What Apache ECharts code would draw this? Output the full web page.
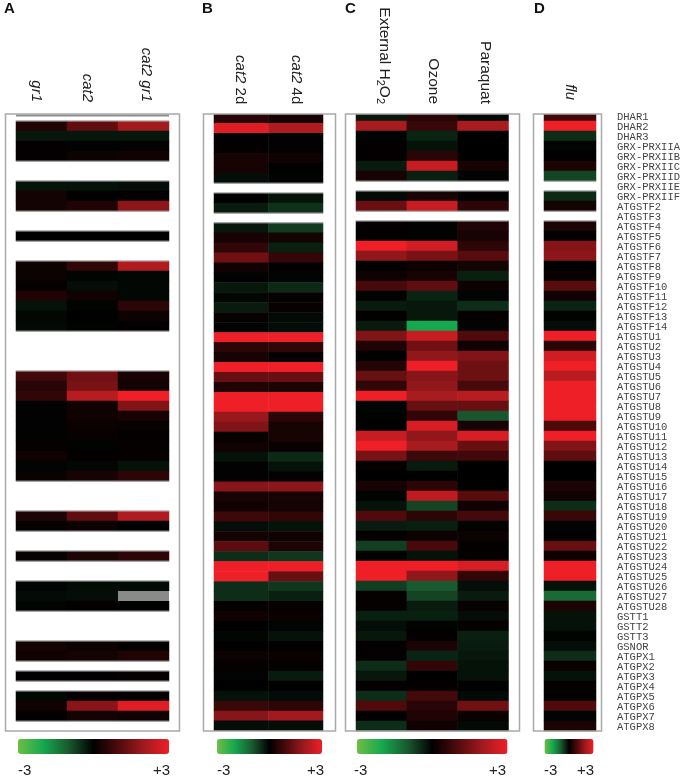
<!DOCTYPE html>
<html><head><meta charset="utf-8"><title>Heatmap</title>
<style>html,body{margin:0;padding:0;background:#fff}#c{width:680px;height:780px}</style>
<script src="https://cdn.jsdelivr.net/npm/echarts@6/dist/echarts.min.js"></script>
</head><body><div id="c"></div>
<script>
const N = null, NA = 'NA'; // N: not on array (blank row), NA: no value (grey cell)
const genes = ['DHAR1','DHAR2','DHAR3','GRX-PRXIIA','GRX-PRXIIB','GRX-PRXIIC','GRX-PRXIID','GRX-PRXIIE','GRX-PRXIIF',
 'ATGSTF2','ATGSTF3','ATGSTF4','ATGSTF5','ATGSTF6','ATGSTF7','ATGSTF8','ATGSTF9','ATGSTF10','ATGSTF11','ATGSTF12','ATGSTF13','ATGSTF14',
 'ATGSTU1','ATGSTU2','ATGSTU3','ATGSTU4','ATGSTU5','ATGSTU6','ATGSTU7','ATGSTU8','ATGSTU9','ATGSTU10','ATGSTU11','ATGSTU12','ATGSTU13','ATGSTU14',
 'ATGSTU15','ATGSTU16','ATGSTU17','ATGSTU18','ATGSTU19','ATGSTU20','ATGSTU21','ATGSTU22','ATGSTU23','ATGSTU24','ATGSTU25','ATGSTU26','ATGSTU27','ATGSTU28',
 'GSTT1','GSTT2','GSTT3','GSNOR','ATGPX1','ATGPX2','ATGPX3','ATGPX4','ATGPX5','ATGPX6','ATGPX7','ATGPX8'];

const A_gr1 = [N,.4,-.25,.05,.03,N,N,-.2,.25,.25,
 N,N,0,N,N,.15,.15,.08,.4,-.2,
 -.08,-.1,N,N,N,N,.8,.5,.6,-.02,
 -.02,-.02,-.02,.08,.2,-.05,.12,N,N,N,
 .35,.08,N,N,.1,N,N,-.05,-.12,-.05,
 N,N,N,.25,.2,N,.02,N,-.08,.2,
 .03,N];
const A_cat2 = [N,1.2,-.25,-.02,.15,N,N,-.2,.03,.4,
 N,N,0,N,N,.6,-.05,-.15,.2,-.03,
 0,-.03,N,N,N,N,1.4,1.5,2.3,.2,
 .2,.12,.1,-.03,.05,-.08,.3,N,N,N,
 1.2,.15,N,N,.35,N,N,-.12,-.15,.05,
 N,N,N,.15,.25,N,.03,N,.05,1.7,
 .25,N];
const A_cat2gr1 = [N,2,-.25,-.02,.2,N,N,-.15,.05,1.75,
 N,N,0,N,N,2.2,-.08,-.08,-.08,.55,
 .15,.05,N,N,N,N,.3,.25,3,1.6,
 .3,.1,.02,.07,.07,-.2,.55,N,N,N,
 2.2,-.02,N,N,.55,N,N,-.12,NA,-.03,
 N,N,N,.05,.4,N,.07,N,.03,2.8,
 .2,N];
const B_2d = [.5,2.8,.02,.05,.3,.3,-.15,N,0,-.3,
 N,-.25,.3,.6,1.4,.2,-.02,-.25,-.08,-.3,
 .1,-.03,3,.55,.3,3,1.3,.4,3,3,
 1.9,1.6,.1,.2,-.2,-.02,-.02,1.7,.3,.2,
 .75,-.15,.25,1.15,-.5,3,3,-.5,-.5,.08,
 .2,0,-.07,.02,.15,.07,-.05,0,-.2,.7,
 1.7,-.15];
const B_4d = [.3,2.2,-.02,-.02,.2,0,-.03,N,-.2,-.55,
 N,-.65,.25,-.35,.65,.05,-.05,-.45,.08,.1,
 -.1,-.12,3,.6,.05,3,1.3,.35,3,3,
 .55,.3,.3,.1,-.45,-.2,-.02,1.75,.3,.25,
 .6,-.2,.2,.35,-.6,3,1.3,-.6,-.35,.08,
 .12,-.05,-.2,.02,.12,.07,-.3,0,-.12,.55,
 2,-.15];
const C_ext = [-.25,2.1,-.05,.05,.03,-.3,.3,N,-.1,1.3,
 N,.05,.05,3,1.8,.02,.15,.9,-.03,-.3,
 .05,-.3,1.6,.4,0,.45,1.3,.6,3,-.05,
 -.03,0,2.5,3,1.5,.08,0,.3,-.03,-.2,
 1,-.3,.05,-.7,-.03,3,3,-.7,.08,.08,
 -.35,-.15,-.25,.05,.05,-.5,-.25,.05,-.5,1,
 .03,-.5];
const C_ozone = [.5,.7,-.4,-.2,.5,2.5,-.35,N,.3,2.5,
 N,-.02,-.02,2.6,1.5,.15,.3,1.2,-.4,-.25,
 -.25,-2,2.5,1.4,1.8,3,1.7,1.8,2.1,1.3,
 .6,2.7,1.8,2.1,.75,-.3,0,.55,2.4,-.75,
 .55,-.35,.15,.9,-.2,3,1.8,-1,-.75,-.3,
 -.35,-.03,.05,.35,-.4,.6,0,.05,.85,.5,
 .4,.2];
const C_paraquat = [-.1,2.1,0,0,0,.3,-.05,N,0,.55,
 N,.4,.3,.55,1.1,.25,-.35,.15,-.05,-.5,
 .08,-.05,1,.2,1.6,1.35,1.35,.9,2.3,1.3,
 -.95,.3,2.7,1.3,.8,0,0,0,1.1,.2,
 .85,-.02,.15,.05,.08,2.7,.6,-.15,-.3,.1,
 -.15,.08,-.35,-.3,-.25,-.2,-.2,.02,-.1,1.4,
 .12,-.1];
const D_flu = [.8,3,-.5,-.05,.03,.35,-.75,N,-.45,.25,
 N,.35,.05,1.65,1.75,0,.1,1.1,.2,-.4,
 -.03,-.15,3,.5,2.6,3,2.3,3,3,3,
 3,.95,3,1.6,1.2,0,0,.35,.2,-.5,
 .7,-.05,-.02,1.3,.15,3,3,-.2,-1.2,.35,
 -.2,-.2,-.03,-.15,-.5,.12,-.2,.08,.03,1,
 -.05,.35];

const scaleColors = ['#6dbe45','#16a84e','#1a5a30','#000000','#500a0c','#a01a1e','#ee1f26'];
const sans = '"Liberation Sans",Arial,sans-serif';
const shift = n => n>0 ? [0,0,n,0] : [-n,0,0,0];

const panels = [
 {letter:'A', letterX:4, frame:[5.5,114,174,617], grid:{left:16,width:153,top:111,height:620},
  cols:[A_gr1,A_cat2,A_cat2gr1], names:['{i|gr1}','{i|cat2}','{i|cat2 gr1}'], nudge:[-10,-10,6], size:15, margin:9,
  bar:[18,151], lo:18, hi:153},
 {letter:'B', letterX:202, frame:[203.5,114,132,617], grid:{left:214,width:109,top:113.3,height:617.5},
  cols:[B_2d,B_4d], names:['{i|cat2} 2d','{i|cat2} 4d'], nudge:[-2,0], size:15, margin:9,
  bar:[217,105], lo:217, hi:307},
 {letter:'C', letterX:345, frame:[345.5,114,174,617], grid:{left:356,width:152.5,top:111,height:620},
  cols:[C_ext,C_ozone,C_paraquat], names:['External H{s|2}O{s|2}','Ozone','Paraquat'], nudge:[6,2,4], size:15.5, margin:7,
  bar:[357,150.5], lo:354, hi:489},
 {letter:'D', letterX:534, frame:[533.5,114,68,617], grid:{left:544,width:52,top:111,height:620},
  cols:[D_flu], names:['{i|flu}'], nudge:[0], size:15, margin:11,
  bar:[544.5,49], lo:544, hi:577}
];

const grids=[], xAxes=[], yAxes=[], series=[], visualMaps=[], graphics=[];
panels.forEach((p,pi)=>{
  grids.push(p.grid);
  xAxes.push({type:'category',gridIndex:pi,position:'top',
    data:p.names.map((n,i)=>({value:n,textStyle:{padding:shift(p.nudge[i])}})),
    axisLine:{show:false},axisTick:{show:false},splitLine:{show:false},
    axisLabel:{interval:0,rotate:90,margin:p.margin,fontFamily:sans,fontSize:p.size,color:'#222',
      rich:{i:{fontStyle:'italic',fontFamily:sans,fontSize:p.size,color:'#222'},
            s:{fontFamily:sans,fontSize:11,color:'#222',verticalAlign:'bottom',lineHeight:20,padding:[6,0,0,0]}}}});
  yAxes.push({type:'category',gridIndex:pi,inverse:true,data:genes,show:false});
  const cells=[];
  p.cols.forEach((col,c)=>col.forEach((v,r)=>{ if(v!==N && v!==NA) cells.push([c,r,v]); }));
  series.push({type:'heatmap',xAxisIndex:pi,yAxisIndex:pi,data:cells,
    itemStyle:{borderWidth:0},emphasis:{disabled:true},progressive:0,animation:false});
  visualMaps.push({type:'continuous',seriesIndex:pi,dimension:2,min:-3,max:3,orient:'horizontal',
    left:p.bar[0],top:739,itemHeight:p.bar[1],itemWidth:15,padding:0,calculable:false,hoverLink:false,
    text:null,showLabel:false,inRange:{color:scaleColors},textStyle:{fontSize:0}});
  graphics.push({type:'text',x:p.letterX,y:1,z:60,style:{text:p.letter,font:'bold 15px '+sans,fill:'#111'}});
  graphics.push({type:'text',x:p.lo,y:763,z:60,style:{text:'-3',font:'15px '+sans,fill:'#222'}});
  graphics.push({type:'text',x:p.hi,y:763,z:60,style:{text:'+3',font:'15px '+sans,fill:'#222'}});
  graphics.push({type:'rect',z:49,silent:true,shape:{x:p.frame[0],y:106,width:p.frame[2],height:8},style:{fill:'#fff'}});
  graphics.push({type:'rect',z:50,silent:true,shape:{x:p.frame[0],y:p.frame[1],width:p.frame[2],height:p.frame[3]},
    style:{fill:'none',stroke:'#a9a9a9',lineWidth:1.5}});
});
// thin grey edge that every block of rows carries, derived from the blank rows
panels.forEach((p,pi)=>{
  const col=p.cols[0], edges=[], grey=[];
  col.forEach((v,r)=>{
    if(v===N) return;
    if(r>0 && col[r-1]===N) edges.push([0,r,-1]);
    if(r<col.length-1 && col[r+1]===N) edges.push([0,r,1]);
  });
  p.cols.forEach((cl,c)=>cl.forEach((v,r)=>{ if(v===NA) grey.push([c,r]); }));
  const last=p.cols.length-1;
  series.push({type:'custom',xAxisIndex:pi,yAxisIndex:pi,data:edges,silent:true,animation:false,z:3,
    renderItem:(params,api)=>{
      const a=api.coord([0,api.value(1)]), b=api.coord([last,api.value(1)]), s=api.size([1,1]);
      const y=a[1]+api.value(2)*s[1]/2;
      return {type:'line',shape:{x1:a[0]-s[0]/2,y1:y,x2:b[0]+s[0]/2,y2:y},
        style:{stroke:api.value(2)>0?'#8c8c8c':'#b5b5b5',lineWidth:1}};
    }});
  if(grey.length) series.push({type:'custom',xAxisIndex:pi,yAxisIndex:pi,data:grey,silent:true,animation:false,z:3,
    renderItem:(params,api)=>{
      const a=api.coord([api.value(0),api.value(1)]), s=api.size([1,1]);
      return {type:'rect',shape:{x:a[0]-s[0]/2,y:a[1]-s[1]/2,width:s[0],height:s[1]},style:{fill:'#8a8a8a'}};
    }});
});
graphics.push({type:'line',z:48,silent:true,shape:{x1:16,y1:115.5,x2:169,y2:115.5},style:{stroke:'#8c8c8c',lineWidth:2}});

// gene names run down a column of their own at a 10 px pitch
grids.push({left:617,width:60,top:112.7,height:620});
xAxes.push({type:'value',gridIndex:4,show:false});
yAxes.push({type:'category',gridIndex:4,inverse:true,data:genes,position:'left',
  axisLine:{show:false},axisTick:{show:false},splitLine:{show:false},
  axisLabel:{inside:true,interval:0,margin:0,align:'left',fontFamily:'"Liberation Mono","Courier New",monospace',fontSize:10.5,color:'#444'}});

const chart=echarts.init(document.getElementById('c'),null,{renderer:'canvas'});
chart.setOption({animation:false,backgroundColor:'#fff',tooltip:{show:false},
  grid:grids,xAxis:xAxes,yAxis:yAxes,series,visualMap:visualMaps,graphic:{elements:graphics}});
</script></body></html>
